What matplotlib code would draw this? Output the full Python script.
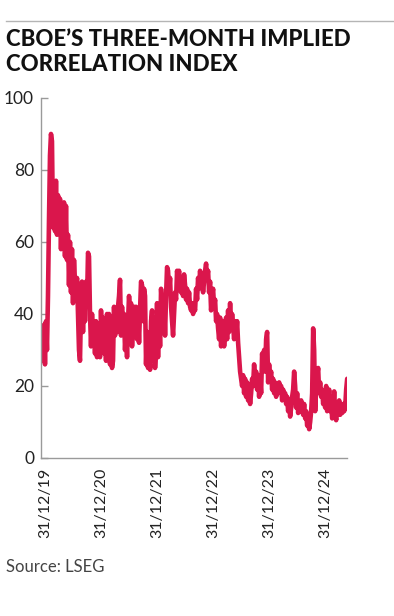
import matplotlib
matplotlib.use("Agg")
import matplotlib.pyplot as plt
import pandas as pd


# =====================================================
# DATA (roughly one value a week)
# =====================================================
START_DATE = "2019-12-05"
STEP = pd.Timedelta(hours=156.5)

index_values = [
    31, 36, 27, 37, 26, 38, 30, 45, 66, 84,
    90, 88, 64, 76, 63, 77, 62, 73, 64, 72,
    58, 70, 60, 71, 56, 70, 55, 62, 48, 60,
    46, 58, 43, 55, 49, 44, 50, 40, 30, 27,
    42, 49, 35, 47, 38, 49, 43, 57, 56, 40,
    31, 40, 34, 37, 29, 38, 28, 36, 30, 28,
    41, 31, 39, 29, 36, 27, 40, 33, 40, 26,
    32, 25, 27, 42, 34, 40, 35, 42, 45, 49.5,
    34, 42, 35, 40, 30, 36, 28, 38, 45, 41,
    43, 31, 38, 42, 35, 42, 33, 40, 32, 41,
    49, 48, 38, 47, 45, 26, 35, 25, 34, 24.5,
    38, 41, 27, 39, 25, 30, 43, 28, 41, 31,
    47, 42, 36, 44, 34, 45, 53, 52, 46, 50,
    42, 38, 34, 40, 46, 44, 52, 49, 52, 47,
    46, 50, 45, 51, 48, 44, 47, 43, 46, 42,
    41, 43, 40, 42, 41, 47, 44, 50, 47, 52,
    48, 50, 46, 49, 52, 54, 50, 52, 46, 49,
    41, 45, 47, 42, 44, 38, 40, 36, 33, 39,
    31, 36, 38, 31, 35, 39, 33, 41, 35, 43,
    36, 40, 37, 33, 38, 34, 38, 32, 28, 24,
    22, 20, 23, 18, 22, 17, 21, 16, 19, 15,
    18, 22, 20, 26, 21, 24, 19, 23, 17, 22,
    18, 29, 25, 30, 24, 33, 35, 21, 26, 22,
    24, 19, 22, 18, 21, 17, 20, 18, 21, 19,
    20, 16, 19, 17, 18, 15, 17, 13, 16, 11.5,
    14, 17, 19, 24, 20, 14, 18, 12.5, 15, 13,
    16, 14.5, 12, 15, 11, 13, 9, 11, 8, 10,
    13, 18, 36, 30, 13, 20, 23, 25, 18, 21,
    17, 19, 15, 18, 14, 20, 13, 17, 19, 13,
    15, 11, 14, 18.5, 13, 10.5, 15, 12, 16, 12,
    14, 12.5, 15, 13, 14, 19, 22,
]

tick_dates = ["2019-12-31", "2020-12-31", "2021-12-31",
              "2022-12-31", "2023-12-31", "2024-12-31"]
tick_labels = ["31/12/19", "31/12/20", "31/12/21",
               "31/12/22", "31/12/23", "31/12/24"]
y_ticks = [0, 20, 40, 60, 80, 100]

TITLE = "CBOE\u2019S THREE-MONTH IMPLIED\nCORRELATION INDEX"
SOURCE = "Source: LSEG"

LINE_COLOR = "#da164c"
AXIS_COLOR = "#9a9a9a"
TEXT_COLOR = "#222222"

dates = pd.date_range(START_DATE, periods=len(index_values), freq=STEP)

# =====================================================
# FIGURE
# =====================================================
plt.rcParams["font.family"] = ["Lato", "DejaVu Sans"]

fig = plt.figure(figsize=(3.94, 6.16), dpi=100)
ax = fig.add_axes([0.104, 0.2565, 0.777, 0.5845])

ax.plot(dates, index_values, color=LINE_COLOR, linewidth=3.3,
        solid_joinstyle="round", solid_capstyle="round")

ax.set_ylim(0, 100)
ax.set_xlim(pd.Timestamp("2019-12-05"), pd.Timestamp("2025-05-22"))

ax.set_yticks(y_ticks)
ax.set_xticks(pd.to_datetime(tick_dates))
ax.set_xticklabels(tick_labels, rotation=90, ha="center", va="top")

for side in ["top", "right"]:
    ax.spines[side].set_visible(False)
for side in ["left", "bottom"]:
    ax.spines[side].set_color(AXIS_COLOR)
    ax.spines[side].set_linewidth(1.0)

ax.tick_params(axis="y", direction="in", length=5, width=1.0,
               color=AXIS_COLOR, labelsize=12.5, labelcolor=TEXT_COLOR, pad=5)
ax.tick_params(axis="x", length=0, labelsize=11.5,
               labelcolor=TEXT_COLOR, pad=7)

# =====================================================
# TITLE / RULE / SOURCE
# =====================================================
fig.add_artist(plt.Line2D([6 / 394, 1.0], [1 - 21 / 616] * 2,
                          color="#b5b5b5", linewidth=1.0))

fig.text(6 / 394, 1 - 29 / 616, TITLE, ha="left", va="top",
         fontsize=16, fontweight="black", color="#111111",
         linespacing=1.25)

fig.text(6 / 394, 1 - 572 / 616, SOURCE, ha="left", va="baseline",
         fontsize=12, color="#444444")

fig.savefig("out.png", dpi=100)
